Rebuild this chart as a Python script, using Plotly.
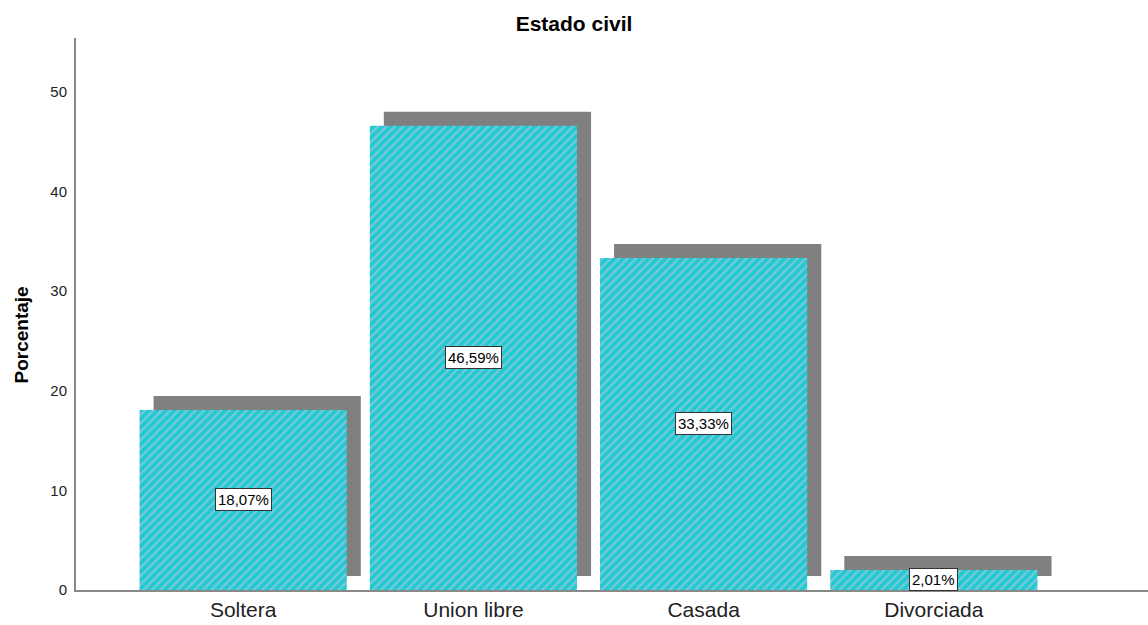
import plotly.graph_objects as go

categories = ["Soltera", "Union libre", "Casada", "Divorciada"]
values = [18.07, 46.59, 33.33, 2.01]
labels = ["18,07%", "46,59%", "33,33%", "2,01%"]
y_ticks = [0, 10, 20, 30, 40, 50]

xpos = list(range(len(categories)))
shadow_dx = 0.061
shadow_dy = 1.4
FONT = "Liberation Sans, Arial"

fig = go.Figure()
fig.add_trace(go.Bar(
    x=[p + shadow_dx for p in xpos], y=values, base=[shadow_dy] * len(values),
    width=0.9, marker=dict(color="#808080", line=dict(width=0)),
    hoverinfo="skip", showlegend=False))
fig.add_trace(go.Bar(
    x=xpos, y=values, width=0.9,
    marker=dict(color="#20c8cf", line=dict(width=0),
                pattern=dict(shape="/", bgcolor="#20c8cf", fgcolor="#c8c8e4",
                             size=6, solidity=0.4, fillmode="overlay")),
    hoverinfo="skip", showlegend=False))

for p, v, t in zip(xpos, values, labels):
    fig.add_annotation(x=p, y=v / 2, text=t, showarrow=False,
                       font=dict(family=FONT, size=15, color="#000"),
                       bgcolor="white", bordercolor="#333", borderwidth=1, borderpad=2)

fig.add_annotation(text="<b>Porcentaje</b>", textangle=-90, showarrow=False,
                   xref="paper", yref="paper", x=-76 / 1072, y=(590 - 335) / 552,
                   xanchor="left", yanchor="middle", xshift=8,
                   font=dict(family=FONT, size=19, color="#000"))

fig.update_layout(
    width=1148, height=625, barmode="overlay",
    margin=dict(l=76, r=0, t=38, b=35),
    plot_bgcolor="white", paper_bgcolor="white",
    title=dict(text="<b>Estado civil</b>", x=0.5, xanchor="center", y=0.962, yanchor="middle",
               font=dict(family=FONT, size=21, color="#000")),
    xaxis=dict(range=[-0.726, 3.93], tickvals=xpos, ticktext=categories, showgrid=False,
               zeroline=False, showline=True, linecolor="#888", linewidth=2, ticks="",
               tickfont=dict(family=FONT, size=21, color="#222")),
    yaxis=dict(range=[0, 55.4], tickvals=y_ticks, showgrid=False, zeroline=False,
               showline=True, linecolor="#888", linewidth=2, ticks="outside", ticklen=4,
               tickcolor="rgba(0,0,0,0)",
               tickfont=dict(family=FONT, size=15, color="#222")),
)

fig.write_html("out.html")
